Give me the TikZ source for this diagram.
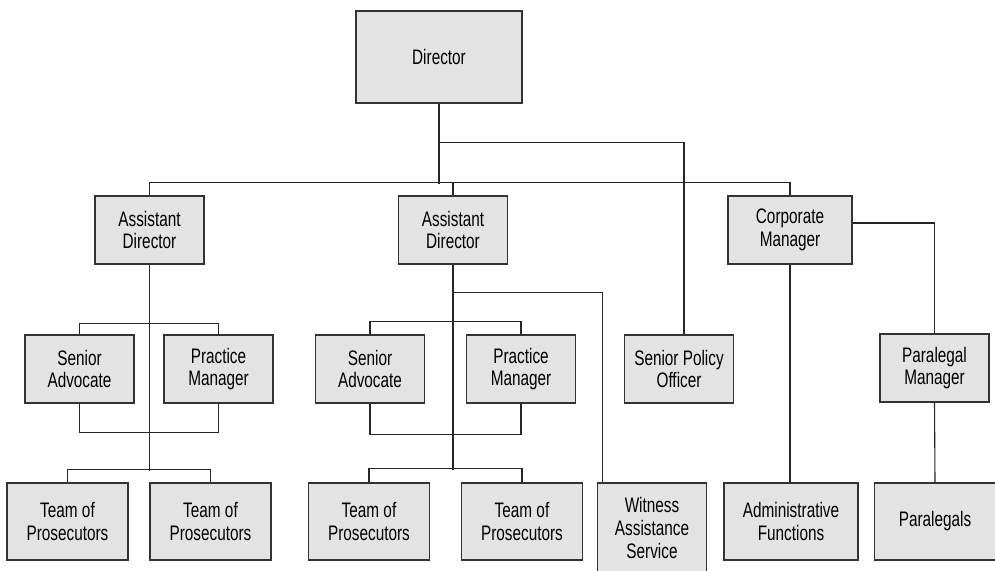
\documentclass[tikz,border=0pt]{standalone}
\usepackage{fontspec}
\setmainfont{Liberation Sans}[FakeStretch=0.73]
\usetikzlibrary{positioning}

\tikzset{
  post/.style={draw=black!80, fill=black!11, line width=0.6pt, align=center,
    inner sep=0pt, minimum width=54.5pt, minimum height=34pt,
    font=\fontsize{10.5}{11.4}\selectfont},
  team/.style={post, minimum width=60.5pt, minimum height=38.5pt},
  link/.style={draw=black!85, line width=0.55pt}
}

\begin{document}
\begin{tikzpicture}[x=0.5pt, y=-0.5pt]
    \useasboundingbox (0,0) rectangle (995,571);
    \clip (0,0) rectangle (995,571);

    % top
    \node[post, minimum width=83pt, minimum height=46pt] (dir) at (439,57) {Director};

    % second row
    \node[post] (ad1) at (149.5,230) {Assistant\\Director};
    \node[post] (ad2) at (453,230) {Assistant\\Director};
    \node[post, minimum width=62pt] (cm) at (790,230) {Corporate\\Manager};

    % third row
    \node[post] (sa1) at (79.5,369) {Senior\\Advocate};
    \node[post] (pm1) at (218.5,369) {Practice\\Manager};
    \node[post] (sa2) at (370,369) {Senior\\Advocate};
    \node[post] (pm2) at (521,369) {Practice\\Manager};
    \node[post] (spo) at (679,369) {Senior Policy\\Officer};
    \node[post] (plm) at (934.5,368) {Paralegal\\Manager};

    % bottom row
    \node[team] (tp1) at (67.5,521.5) {Team of\\Prosecutors};
    \node[team] (tp2) at (210.5,521.5) {Team of\\Prosecutors};
    \node[team] (tp3) at (369,521.5) {Team of\\Prosecutors};
    \node[team] (tp4) at (522,521.5) {Team of\\Prosecutors};
    \node[post, minimum height=45pt] (was) at (652,528) {Witness\\Assistance\\Service};
    \node[team, minimum width=67pt] (af) at (791,521.5) {Administrative\\Functions};
    \node[team] (pl) at (935,521.5) {Paralegals};

    % director level
    \draw[link] (dir.south) -- ++(0,80);
    \draw[link] (dir.south) -- ++(0,39) -| ([xshift=2.5pt]spo.north);
    \draw[link] (ad1.north) -- ++(0,-13) -| (cm.north);
    \draw[link] (ad2.north) -- ++(0,-13);

    % first assistant director
    \draw[link] (ad1.south) -- ++(0,206);
    \draw[link] (sa1.north) -- ++(0,-11) -| (pm1.north);
    \draw[link] (sa1.south) -- ++(0,29) -| (pm1.south);
    \draw[link] (tp1.north) -- ++(0,-13) -| (tp2.north);

    % second assistant director
    \draw[link] (ad2.south) -- ++(0,205);
    \draw[link] (ad2.south) -- ++(0,28) -| ([xshift=3pt]was.north west);
    \draw[link] (sa2.north) -- ++(0,-13) -| (pm2.north);
    \draw[link] (sa2.south) -- ++(0,31) -| (pm2.south);
    \draw[link] (tp3.north) -- ++(0,-14) -| (tp4.north);

    % corporate side
    \draw[link] (cm.south) -- (cm.south |- af.north);
    \draw[link] ([yshift=3.5pt]cm.east) -| (plm.north);
    \draw[link] (plm.south) -- (pl.north);
\end{tikzpicture}
\end{document}
